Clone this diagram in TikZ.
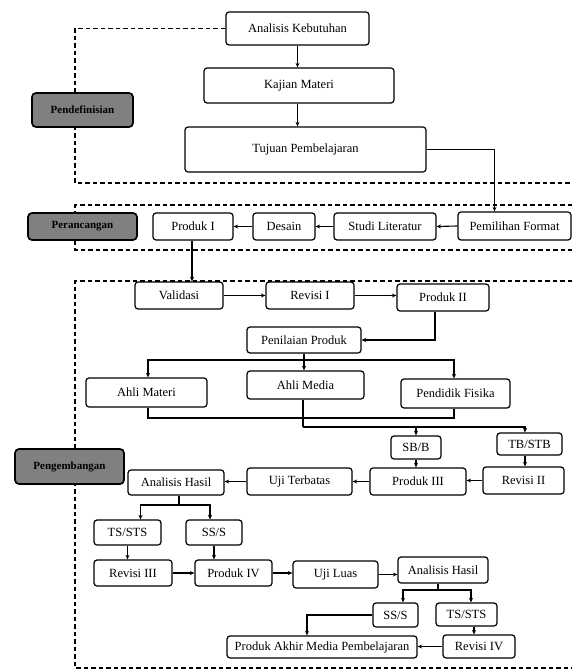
\documentclass[tikz,border=0pt]{standalone}
\usepackage{fontspec}
\setmainfont{Liberation Serif}
\usetikzlibrary{arrows.meta,calc}
\newcommand\bx[7][box]{\node[#1, minimum width={#5-#3}, minimum height={#6-#4}] (#2) at ({(#3+#5)/2},{(#4+#6)/2}) {#7};}
\begin{document}
\begin{tikzpicture}[x=1pt,y=-1pt,
 box/.style={draw, line width=1.2pt, rounded corners=3pt, inner sep=0pt, fill=white, font=\fontsize{12.5}{14}\selectfont},
 lbl/.style={draw, line width=1.7pt, rounded corners=4pt, inner sep=0pt, fill=black!50, font=\bfseries\fontsize{11}{13}\selectfont},
 arr/.style={line width=1.1pt, -{Stealth[length=4.5pt,width=4pt]}},
 ln/.style={line width=1.1pt},
 dsh/.style={line width=1.3pt, dash pattern=on 4.5pt off 3pt}]
\useasboundingbox (0,0) rectangle (572,671);
% boxes
\bx{ak}{226}{12}{369}{45}{Analisis Kebutuhan}
\bx{km}{204}{68}{394}{103}{Kajian Materi}
\bx{tp}{185}{127}{426}{172}{Tujuan Pembelajaran}
\bx{pone}{153}{213}{233}{240}{Produk I}
\bx{ds}{253}{213}{315}{240}{Desain}
\bx{sl}{334}{213}{436}{240}{Studi Literatur}
\bx{pf}{458}{212}{571}{240}{Pemilihan Format}
\bx{va}{135}{282}{223}{309}{Validasi}
\bx{rone}{266}{282}{354}{309}{Revisi I}
\bx{ptwo}{397}{284}{489}{311}{Produk II}
\bx{pp}{247}{327}{361}{353}{Penilaian Produk}
\bx{am}{86}{378}{207}{407}{Ahli Materi}
\bx{amd}{247}{371}{364}{399}{Ahli Media}
\bx{pfis}{401}{379}{510}{408}{Pendidik Fisika}
\bx{sbb}{391}{436}{441}{459}{SB/B}
\bx{tbstb}{497}{433}{562}{455}{TB/STB}
\bx{pthree}{370}{468}{466}{495}{Produk III}
\bx{rtwo}{483}{467}{564}{494}{Revisi II}
\bx{ut}{247}{468}{352}{495}{Uji Terbatas}
\bx{ahone}{128}{470}{224}{495}{Analisis Hasil}
\bx{tsone}{94}{520}{161}{545}{TS/STS}
\bx{ssone}{186}{520}{242}{545}{SS/S}
\bx{rthree}{94}{560}{172}{586}{Revisi III}
\bx{pfour}{195}{560}{272}{586}{Produk IV}
\bx{ul}{293}{561}{378}{588}{Uji Luas}
\bx{ahtwo}{398}{557}{488}{583}{Analisis Hasil}
\bx{sstwo}{373}{603}{418}{627}{SS/S}
\bx{tstwo}{436}{603}{497}{626}{TS/STS}
\bx{pa}{227}{636}{417}{658}{Produk Akhir Media Pembelajaran}
\bx{rfour}{443}{635}{515}{658}{Revisi IV}
% dashed regions
\draw[dsh] (ak.west) -- (75,28.5) -- (75,183) -- (572,183);
\draw[dsh] (572,205) -- (75,205) -- (75,250) -- (572,250);
\draw[dsh] (572,281) -- (75,281) -- (75,668) -- (572,668);
% phase labels
\bx[lbl]{lone}{32}{93}{133}{127}{Pendefinisian}
\bx[lbl]{ltwo}{28}{213}{137}{240}{Perancangan}
\bx[lbl]{lthree}{15}{449}{124}{484}{Pengembangan}
% connectors
\draw[arr] (ak.south) -- (ak.south |- km.north);
\draw[arr] (ak.south |- km.south) -- (ak.south |- tp.north);
\draw[arr] (tp.east) -| ([xshift=-20pt]pf.north);
\draw[arr] (pf.west) -- (sl.east);
\draw[arr] (sl.west) -- (ds.east);
\draw[arr] (ds.west) -- (pone.east);
\draw[arr] ([xshift=-1pt]pone.south) -- ([xshift=-1pt]pone.south |- va.north);
\draw[arr] (va.east) -- (va.east -| rone.west);
\draw[arr] (rone.east) -- (rone.east -| ptwo.west);
\draw[arr] ([xshift=-8pt]ptwo.south) |- (pp.east);
\coordinate (bone) at (304,360);
\draw[ln] (pp.south) -- (bone);
\draw[arr] (bone) -| ([xshift=1.5pt]am.north);
\draw[arr] (bone) -| ([xshift=-1.5pt]pfis.north);
\draw[arr] (bone) -- (bone |- amd.north);
\coordinate (jone) at (300,418);
\draw[ln] ([xshift=1.5pt]am.south) |- (jone) -| ([xshift=-1.5pt]pfis.south);
\coordinate (jtwo) at (303,427);
\draw[ln] (jtwo |- amd.south) -- (jtwo);
\draw[arr] (jtwo) -| ([xshift=-4.5pt]tbstb.north);
\draw[arr] (sbb.north |- jtwo) -- (sbb.north);
\draw[arr] (sbb.south) -- (sbb.south |- pthree.north);
\draw[arr] ([xshift=-4.5pt]tbstb.south) -- ([xshift=-4.5pt]tbstb.south |- rtwo.north);
\draw[arr] (rtwo.west) -- (rtwo.west -| pthree.east);
\draw[arr] (pthree.west) -- (pthree.west -| ut.east);
\draw[arr] (ut.west) -- (ut.west -| ahone.east);
\coordinate (btwo) at (179,505);
\draw[ln] (btwo |- ahone.south) -- (btwo);
\draw[arr] (btwo) -| ([xshift=13pt]tsone.north);
\draw[arr] (btwo) -| ([xshift=-4pt]ssone.north);
\draw[arr] (tsone.south) -- (tsone.south |- rthree.north);
\draw[arr] (ssone.south) -- (ssone.south |- pfour.north);
\draw[arr] (rthree.east) -- (rthree.east -| pfour.west);
\draw[arr] (pfour.east) -- (pfour.east -| ul.west);
\draw[arr] (ul.east) -- (ul.east -| ahtwo.west);
\coordinate (bthree) at (438,590);
\draw[ln] (bthree |- ahtwo.south) -- (bthree);
\draw[arr] (bthree) -| ([xshift=7.5pt]sstwo.north);
\draw[arr] (bthree) -| ([xshift=4.5pt]tstwo.north);
\draw[arr] ([xshift=7.5pt]tstwo.south) -- ([xshift=7.5pt]tstwo.south |- rfour.north);
\draw[arr] (sstwo.west) -| ([xshift=-15pt]pa.north);
\draw[arr] (rfour.west) -- (rfour.west -| pa.east);
\end{tikzpicture}
\end{document}
